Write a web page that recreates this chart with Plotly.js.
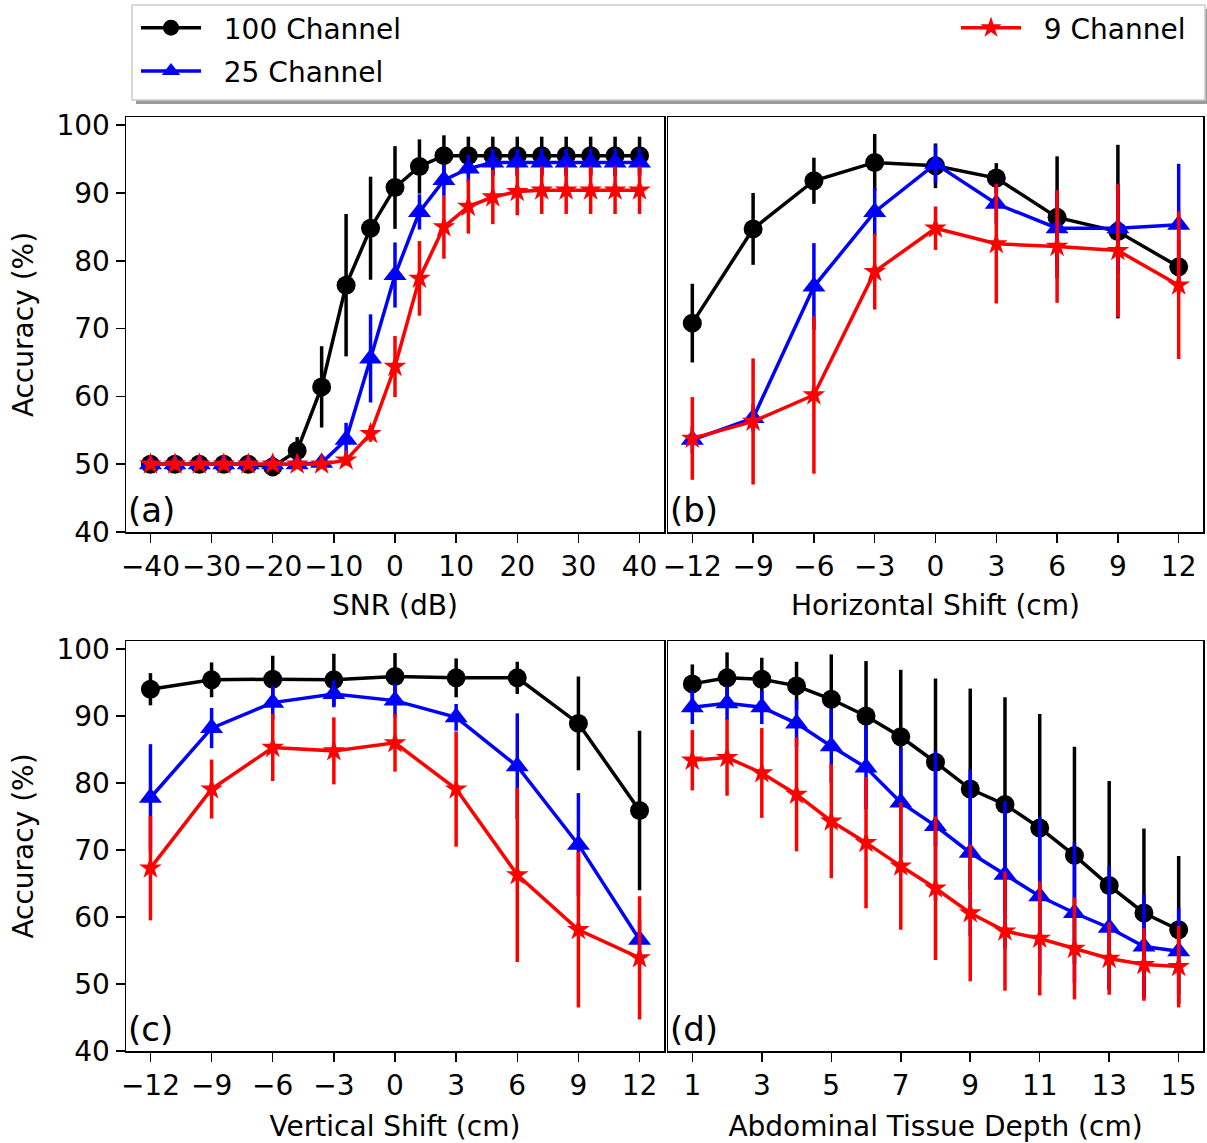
<!DOCTYPE html>
<html>
<head>
<meta charset="utf-8">
<script src="https://cdn.plot.ly/plotly-3.0.1.min.js"></script>
<style>html,body{margin:0;padding:0;background:#fff;}#chart{width:1207px;height:1143px;}</style>
</head>
<body>
<div id="chart"></div>
<script>
// ---------- data ----------
const seriesNames = ["100 Channel", "25 Channel", "9 Channel"];

// (a) SNR
const snrX = [-40,-36,-32,-28,-24,-20,-16,-12,-8,-4,0,4,8,12,16,20,24,28,32,36,40];
const snr100 = [50.0,50.0,50.0,50.0,50.0,49.6,52.0,61.4,76.4,84.8,90.8,93.9,95.5,95.5,95.5,95.5,95.5,95.5,95.5,95.5,95.5];
const snr100Err = [0.3,0.3,0.3,0.3,0.3,0.5,2.0,6.0,10.5,7.6,6.1,4.0,3.0,2.8,2.8,2.8,2.8,2.8,2.8,2.8,2.8];
const snr25 = [50.0,50.0,50.0,50.0,50.0,50.0,50.0,50.2,53.6,65.6,77.9,87.2,91.9,93.6,94.5,94.5,94.5,94.5,94.5,94.5,94.5];
const snr25Err = [0.3,0.3,0.3,0.3,0.3,0.3,0.3,0.5,2.5,6.5,4.8,2.6,2.2,2.0,2.0,2.0,2.0,2.0,2.0,2.0,2.0];
const snr9 = [50.0,50.0,50.0,50.0,50.0,50.0,50.0,50.0,50.6,54.5,64.4,77.4,85.0,88.0,89.4,90.2,90.4,90.4,90.4,90.4,90.4];
const snr9Err = [0.3,0.3,0.3,0.3,0.3,0.3,0.3,0.3,0.8,1.2,4.5,5.5,4.7,4.0,4.0,3.5,3.5,3.5,3.5,3.5,3.5];

// (b) Horizontal shift
const hX = [-12,-9,-6,-3,0,3,6,9,12];
const h100 = [70.8,84.7,91.8,94.5,94.0,92.2,86.4,84.3,79.1];
const h100Err = [5.8,5.3,3.4,4.2,3.3,2.2,9.0,12.8,4.0];
const h25 = [53.6,56.8,76.2,87.2,94.3,88.4,84.8,84.8,85.3];
const h25Err = [2.0,2.0,6.4,3.5,2.8,3.0,5.5,6.6,9.0];
const h9 = [53.8,56.3,60.2,78.4,84.8,82.5,82.1,81.5,76.4];
const h9Err = [6.1,9.3,11.6,5.6,3.2,8.8,8.3,9.8,10.9];

// (c) Vertical shift
const vX = [-12,-9,-6,-3,0,3,6,9,12];
const v100 = [94.0,95.4,95.5,95.4,95.9,95.7,95.7,88.9,75.9];
const v100Err = [2.4,2.6,3.5,3.9,3.5,2.9,2.4,7.0,11.9];
const v25 = [77.8,88.2,92.0,93.3,92.3,89.8,82.5,70.8,56.6];
const v25Err = [8.0,3.0,2.5,2.0,2.5,2.0,7.9,7.7,3.0];
const v9 = [67.3,79.1,85.3,84.8,86.0,79.1,66.3,58.1,53.9];
const v9Err = [7.8,4.4,5.0,5.0,4.3,8.6,13.0,11.6,9.2];

// (d) Abdominal tissue depth
const dX = [1,2,3,4,5,6,7,8,9,10,11,12,13,14,15];
const d100 = [94.8,95.7,95.5,94.5,92.5,90.0,86.9,83.1,79.1,76.8,73.3,69.2,64.7,60.6,58.1];
const d100Err = [2.9,3.8,3.2,3.6,6.7,8.2,10.0,12.5,15.0,16.0,17.0,16.2,15.6,12.6,11.0];
const d25 = [91.3,91.9,91.3,88.9,85.5,82.3,77.1,73.6,69.6,66.3,63.1,60.6,58.4,55.6,54.9];
const d25Err = [2.5,2.5,2.5,3.5,5.5,6.2,8.2,11.2,12.4,11.0,11.8,10.5,9.2,7.8,6.4];
const d9 = [83.4,83.8,81.5,78.3,74.3,71.1,67.6,64.3,60.6,57.9,56.8,55.3,53.8,52.9,52.6];
const d9Err = [4.5,5.7,6.7,8.5,8.5,9.8,9.5,10.7,10.2,8.9,8.5,7.6,5.4,5.4,6.1];

// tick labels
const snrTicks = [-40,-30,-20,-10,0,10,20,30,40];
const snrTickText = ["\u221240","\u221230","\u221220","\u221210","0","10","20","30","40"];
const shiftTicks = [-12,-9,-6,-3,0,3,6,9,12];
const shiftTickText = ["\u221212","\u22129","\u22126","\u22123","0","3","6","9","12"];
const depthTicks = [1,3,5,7,9,11,13,15];
const depthTickText = ["1","3","5","7","9","11","13","15"];
const accTicks = [40,50,60,70,80,90,100];
const accTickText = ["40","50","60","70","80","90","100"];

const xTitles = ["SNR (dB)", "Horizontal Shift (cm)", "Vertical Shift (cm)", "Abdominal Tissue Depth (cm)"];
const panelLabels = ["(a)", "(b)", "(c)", "(d)"];

// ---------- styling ----------
const W = 1207, H = 1143;
const FONT = "DejaVu Sans, Liberation Sans, sans-serif";
const colors = ["#000000", "#0000ff", "#ff0000"];
const symbols = ["circle", "triangle-up", "star"];
const msizes = [19, 20, 17];
const legendOf = ["legend", "legend", "legend2"];
const NB = "\u00a0\u00a0";

function px2x(p){ return p / W; }
function px2y(p){ return 1 - p / H; }

const panels = [
  {x: snrX, ys: [snr100, snr25, snr9], es: [snr100Err, snr25Err, snr9Err]},
  {x: hX, ys: [h100, h25, h9], es: [h100Err, h25Err, h9Err]},
  {x: vX, ys: [v100, v25, v9], es: [v100Err, v25Err, v9Err]},
  {x: dX, ys: [d100, d25, d9], es: [d100Err, d25Err, d9Err]}
];

const traces = [];
panels.forEach((p, pi) => {
  const ax = pi === 0 ? "" : String(pi + 1);
  for (let s = 0; s < 3; s++) {
    traces.push({
      type: "scatter", mode: "lines+markers",
      x: p.x, y: p.ys[s],
      xaxis: "x" + ax, yaxis: "y" + ax,
      name: NB + seriesNames[s],
      legend: legendOf[s],
      legendgroup: seriesNames[s],
      showlegend: pi === 0,
      line: {color: colors[s], width: 3.5},
      marker: {symbol: symbols[s], size: msizes[s], color: colors[s], line: {width: 0}},
      error_y: {type: "data", array: p.es[s], visible: true, color: colors[s], thickness: 3.5, width: 0},
      hoverinfo: "skip"
    });
  }
});

const colsPx = [[126, 664], [668, 1203]];
const rowsPx = [[117, 532], [641, 1051]];
const xRanges = [[-44, 44], [-13.2, 13.2], [-13.2, 13.2], [0.3, 15.7]];
const xTickVals = [snrTicks, shiftTicks, shiftTicks, depthTicks];
const xTickTexts = [snrTickText, shiftTickText, shiftTickText, depthTickText];

const layout = {
  width: W, height: H,
  margin: {l: 0, r: 0, t: 0, b: 0},
  paper_bgcolor: "#ffffff", plot_bgcolor: "#ffffff",
  font: {family: FONT, size: 28, color: "#000000"},
  showlegend: true,
  legend: {
    x: px2x(136), y: px2y(3), xanchor: "left", yanchor: "top",
    orientation: "v", bgcolor: "rgba(0,0,0,0)", borderwidth: 0,
    font: {family: FONT, size: 28, color: "#000000"},
    traceorder: "grouped", tracegroupgap: 4, itemwidth: 60
  },
  legend2: {
    x: px2x(956), y: px2y(3), xanchor: "left", yanchor: "top",
    orientation: "v", bgcolor: "rgba(0,0,0,0)", borderwidth: 0,
    font: {family: FONT, size: 28, color: "#000000"},
    itemwidth: 60
  },
  shapes: [
    {type: "rect", xref: "paper", yref: "paper", layer: "below",
     x0: px2x(136), x1: px2x(1209), y0: px2y(9), y1: px2y(104),
     fillcolor: "#9a9a9a", line: {width: 0}},
    {type: "rect", xref: "paper", yref: "paper", layer: "below",
     x0: px2x(132), x1: px2x(1205), y0: px2y(5), y1: px2y(100),
     fillcolor: "#ffffff", line: {color: "#cccccc", width: 1.5}}
  ],
  annotations: []
};

for (let pi = 0; pi < 4; pi++) {
  const col = pi % 2, row = Math.floor(pi / 2);
  const ax = pi === 0 ? "" : String(pi + 1);
  const cx = colsPx[col], ry = rowsPx[row];
  layout["xaxis" + ax] = {
    domain: [px2x(cx[0]), px2x(cx[1])],
    range: xRanges[pi], anchor: "y" + ax,
    tickmode: "array", tickvals: xTickVals[pi], ticktext: xTickTexts[pi],
    ticks: "outside", ticklen: 9, tickwidth: 1.5, tickcolor: "#000",
    showline: true, mirror: true, linecolor: "#000", linewidth: 1.5,
    showgrid: false, zeroline: false, automargin: false,
    tickfont: {family: FONT, size: 28, color: "#000"},
    title: {text: xTitles[pi], font: {family: FONT, size: 28, color: "#000"}, standoff: row === 0 ? 13 : 15}
  };
  const yax = {
    domain: [px2y(ry[1]), px2y(ry[0])],
    range: [40, 101.2], anchor: "x" + ax,
    tickmode: "array", tickvals: accTicks, ticktext: accTickText,
    showline: true, mirror: true, linecolor: "#000", linewidth: 1.5,
    showgrid: false, zeroline: false, automargin: false,
    tickfont: {family: FONT, size: 28, color: "#000"}
  };
  if (col === 0) {
    yax.ticks = "outside"; yax.ticklen = 9; yax.tickwidth = 1.5; yax.tickcolor = "#000";
    yax.showticklabels = true;
    yax.title = {text: "Accuracy (%)", font: {family: FONT, size: 28, color: "#000"}, standoff: 14};
  } else {
    yax.ticks = ""; yax.showticklabels = false;
  }
  layout["yaxis" + ax] = yax;
  layout.annotations.push({
    text: panelLabels[pi], xref: "x" + ax + " domain", yref: "y" + ax + " domain",
    x: 0.0, y: 0.0, xanchor: "left", yanchor: "bottom", showarrow: false,
    font: {family: FONT, size: 34, color: "#000"}
  });
}

Plotly.newPlot("chart", traces, layout, {staticPlot: true, displayModeBar: false});
</script>
</body>
</html>
